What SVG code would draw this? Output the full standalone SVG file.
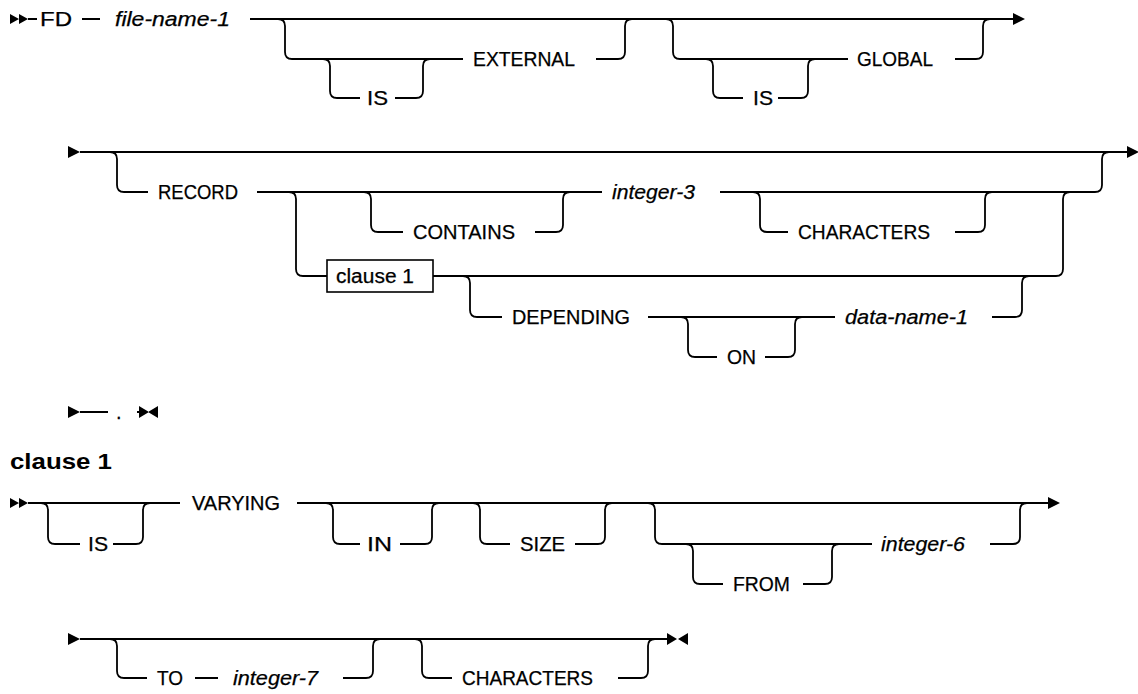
<svg xmlns="http://www.w3.org/2000/svg" width="1138" height="694" viewBox="0 0 1138 694">
<style>
.ln{fill:none;stroke:#000;stroke-width:1.8}
.t{font-family:"Liberation Sans",Arial,sans-serif;font-size:20px;fill:#000;stroke:#000;stroke-width:0.25}
.i{font-style:italic}
.h{font-family:"Liberation Sans",Arial,sans-serif;font-size:22px;font-weight:bold;fill:#000}
.ar{fill:#000}
.box{fill:#fff;stroke:#000;stroke-width:1.6}
</style>
<rect width="1138" height="694" fill="#fff"/>
<g id="connectors">
<path class="ln" d="M28 19 H37 M82 19 H100 M250 19 H1014"/>
<path class="ln" d="M278 19 q7 0 7 7 v26 q0 7 7 7 H463 M596 59 H618 q7 0 7 -7 v-26 q0 -7 7 -7"/>
<path class="ln" d="M323 59 q7 0 7 7 v25 q0 7 7 7 H360 M395 98 H416 q7 0 7 -7 v-25 q0 -7 7 -7"/>
<path class="ln" d="M666 19 q7 0 7 7 v26 q0 7 7 7 H848 M955 59 H976 q7 0 7 -7 v-26 q0 -7 7 -7"/>
<path class="ln" d="M706 59 q7 0 7 7 v25 q0 7 7 7 H743 M778 98 H801 q7 0 7 -7 v-25 q0 -7 7 -7"/>
<path class="ln" d="M80 152 H1128"/>
<path class="ln" d="M110 152 q7 0 7 7 v26 q0 7 7 7 H148 M257 192 H602 M720 192 H1095 q7 0 7 -7 v-26 q0 -7 7 -7"/>
<path class="ln" d="M364 192 q7 0 7 7 v26 q0 7 7 7 H403 M535 232 H556 q7 0 7 -7 v-26 q0 -7 7 -7"/>
<path class="ln" d="M753 192 q7 0 7 7 v26 q0 7 7 7 H788 M955 232 H978 q7 0 7 -7 v-26 q0 -7 7 -7"/>
<path class="ln" d="M289 192 q7 0 7 7 v70 q0 7 7 7 H327 M433 276 H1056 q7 0 7 -7 v-70 q0 -7 7 -7"/>
<path class="ln" d="M463 276 q7 0 7 7 v27 q0 7 7 7 H502 M648 317 H835 M992 317 H1015 q7 0 7 -7 v-27 q0 -7 7 -7"/>
<path class="ln" d="M681 317 q7 0 7 7 v26 q0 7 7 7 H717 M765 357 H788 q7 0 7 -7 v-26 q0 -7 7 -7"/>
<path class="ln" d="M80 412 H108 M137 412 H142"/>
<path class="ln" d="M28 503 H180 M297 503 H1049"/>
<path class="ln" d="M41 503 q7 0 7 7 v27 q0 7 7 7 H80 M113 544 H136 q7 0 7 -7 v-27 q0 -7 7 -7"/>
<path class="ln" d="M326 503 q7 0 7 7 v27 q0 7 7 7 H360 M400 544 H425 q7 0 7 -7 v-27 q0 -7 7 -7"/>
<path class="ln" d="M473 503 q7 0 7 7 v27 q0 7 7 7 H510 M575 544 H598 q7 0 7 -7 v-27 q0 -7 7 -7"/>
<path class="ln" d="M648 503 q7 0 7 7 v27 q0 7 7 7 H872 M990 544 H1013 q7 0 7 -7 v-27 q0 -7 7 -7"/>
<path class="ln" d="M686 544 q7 0 7 7 v26 q0 7 7 7 H723 M803 584 H825 q7 0 7 -7 v-26 q0 -7 7 -7"/>
<path class="ln" d="M80 639 H668"/>
<path class="ln" d="M110 639 q7 0 7 7 v25 q0 7 7 7 H147 M195 678 H218 M343 678 H366 q7 0 7 -7 v-25 q0 -7 7 -7"/>
<path class="ln" d="M415 639 q7 0 7 7 v25 q0 7 7 7 H452 M618 678 H641 q7 0 7 -7 v-25 q0 -7 7 -7"/>
<path class="ar" d="M10 14 L19 19 L10 24 Z M19 14 L28 19 L19 24 Z"/>
<path class="ar" d="M1013 13 L1025 19 L1013 25 Z"/>
<path class="ar" d="M68 146 L80 152 L68 158 Z"/>
<path class="ar" d="M1127 146 L1139 152 L1127 158 Z"/>
<path class="ar" d="M68 406 L80 412 L68 418 Z"/>
<path class="ar" d="M139 406 L149 412 L139 418 Z M158 406 L148 412 L158 418 Z"/>
<path class="ar" d="M10 498 L19 503 L10 508 Z M19 498 L28 503 L19 508 Z"/>
<path class="ar" d="M1048 497 L1060 503 L1048 509 Z"/>
<path class="ar" d="M68 633 L80 639 L68 645 Z"/>
<path class="ar" d="M667 633 L677 639 L667 645 Z M688 633 L678 639 L688 645 Z"/>
</g>
<g id="n-FD"><text class="t" x="40" y="26" textLength="32" lengthAdjust="spacingAndGlyphs">FD</text></g>
<g id="n-file-name-1"><text class="t i" x="115" y="26" textLength="115" lengthAdjust="spacingAndGlyphs">file-name-1</text></g>
<g id="n-IS1"><text class="t" x="367" y="105" textLength="21" lengthAdjust="spacingAndGlyphs">IS</text></g>
<g id="n-EXTERNAL"><text class="t" x="473" y="66" textLength="102" lengthAdjust="spacingAndGlyphs">EXTERNAL</text></g>
<g id="n-IS2"><text class="t" x="753" y="105" textLength="20" lengthAdjust="spacingAndGlyphs">IS</text></g>
<g id="n-GLOBAL"><text class="t" x="857" y="66" textLength="76" lengthAdjust="spacingAndGlyphs">GLOBAL</text></g>
<g id="n-RECORD"><text class="t" x="158" y="199" textLength="80" lengthAdjust="spacingAndGlyphs">RECORD</text></g>
<g id="n-CONTAINS"><text class="t" x="413" y="239" textLength="102" lengthAdjust="spacingAndGlyphs">CONTAINS</text></g>
<g id="n-integer-3"><text class="t i" x="612" y="199" textLength="83" lengthAdjust="spacingAndGlyphs">integer-3</text></g>
<g id="n-CHARACTERS1"><text class="t" x="798" y="239" textLength="132" lengthAdjust="spacingAndGlyphs">CHARACTERS</text></g>
<g id="n-clause1-ref"><rect class="box" x="327" y="260" width="106" height="32"/><text class="t" x="336" y="283" textLength="78" lengthAdjust="spacingAndGlyphs">clause 1</text></g>
<g id="n-DEPENDING"><text class="t" x="512" y="324" textLength="118" lengthAdjust="spacingAndGlyphs">DEPENDING</text></g>
<g id="n-ON"><text class="t" x="727" y="364" textLength="29" lengthAdjust="spacingAndGlyphs">ON</text></g>
<g id="n-data-name-1"><text class="t i" x="845" y="324" textLength="123" lengthAdjust="spacingAndGlyphs">data-name-1</text></g>
<g id="n-period"><text class="t" x="116" y="419" font-size="22">.</text></g>
<g id="n-heading"><text class="h" x="10" y="469" textLength="102" lengthAdjust="spacingAndGlyphs">clause 1</text></g>
<g id="n-IS3"><text class="t" x="88" y="551" textLength="20" lengthAdjust="spacingAndGlyphs">IS</text></g>
<g id="n-VARYING"><text class="t" x="192" y="510" textLength="88" lengthAdjust="spacingAndGlyphs">VARYING</text></g>
<g id="n-IN"><text class="t" x="367" y="551" textLength="25" lengthAdjust="spacingAndGlyphs">IN</text></g>
<g id="n-SIZE"><text class="t" x="520" y="551" textLength="45" lengthAdjust="spacingAndGlyphs">SIZE</text></g>
<g id="n-FROM"><text class="t" x="733" y="591" textLength="57" lengthAdjust="spacingAndGlyphs">FROM</text></g>
<g id="n-integer-6"><text class="t i" x="881" y="551" textLength="84" lengthAdjust="spacingAndGlyphs">integer-6</text></g>
<g id="n-TO"><text class="t" x="157" y="685" textLength="26" lengthAdjust="spacingAndGlyphs">TO</text></g>
<g id="n-integer-7"><text class="t i" x="233" y="685" textLength="85" lengthAdjust="spacingAndGlyphs">integer-7</text></g>
<g id="n-CHARACTERS2"><text class="t" x="462" y="685" textLength="131" lengthAdjust="spacingAndGlyphs">CHARACTERS</text></g>
</svg>
